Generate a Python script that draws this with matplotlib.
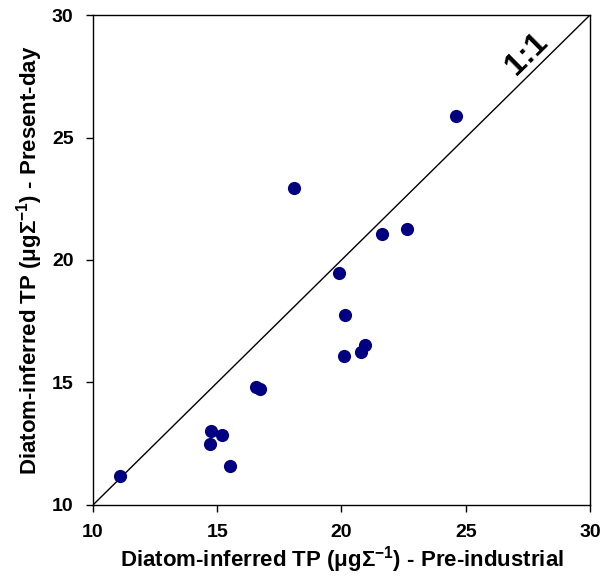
import matplotlib
matplotlib.use("Agg")
import matplotlib.pyplot as plt

plt.rcParams['font.family'] = ['Liberation Sans', 'DejaVu Sans']
plt.rcParams['font.weight'] = 'bold'
plt.rcParams['mathtext.fontset'] = 'custom'
plt.rcParams['mathtext.rm'] = 'Liberation Sans:bold'
plt.rcParams['mathtext.bf'] = 'Liberation Sans:bold'

# diatom-inferred TP, pre-industrial vs present-day
pre_industrial = [11.10, 18.07, 21.62, 22.65, 19.89, 20.16, 20.94, 20.80, 20.11,
                  16.55, 16.71, 14.73, 15.21, 14.70, 15.50, 24.62]
present_day = [11.18, 22.95, 21.07, 21.25, 19.47, 17.76, 16.54, 16.24, 16.09,
               14.80, 14.72, 13.02, 12.87, 12.50, 11.58, 25.88]
ticks = [10, 15, 20, 25, 30]

fig = plt.figure(figsize=(6.01, 5.84), dpi=100)
ax = fig.add_axes([0.1547, 0.1353, 0.827, 0.839])

ax.plot([10, 30], [10, 30], color='black', lw=1.0, zorder=1)
ax.scatter(pre_industrial, present_day, s=90, color='#000080', zorder=2, linewidths=0)
ax.text(27.45, 28.4, '1:1', rotation=44.6, fontsize=23, fontweight='bold',
        ha='center', va='center')

ax.set_xlim(10, 30)
ax.set_ylim(10, 30)
ax.set_xticks(ticks)
ax.set_yticks(ticks)
ax.tick_params(direction='out', length=5, width=1, labelsize=14, pad=9)
for lab in ax.get_xticklabels() + ax.get_yticklabels():
    lab.set_fontweight('bold')
for s in ax.spines.values():
    s.set_linewidth(1.0)

ax.set_xlabel(r'Diatom-inferred TP (μgΣ$^{-1}$) - Pre-industrial', fontsize=16,
              fontweight='bold', va='center')
ax.set_ylabel(r'Diatom-inferred TP (μgΣ$^{-1}$) - Present-day', fontsize=16,
              fontweight='bold', va='center')
ax.xaxis.set_label_coords(0.5, -0.112)
ax.yaxis.set_label_coords(-0.127, 0.5)

fig.savefig('out.png', dpi=100)
